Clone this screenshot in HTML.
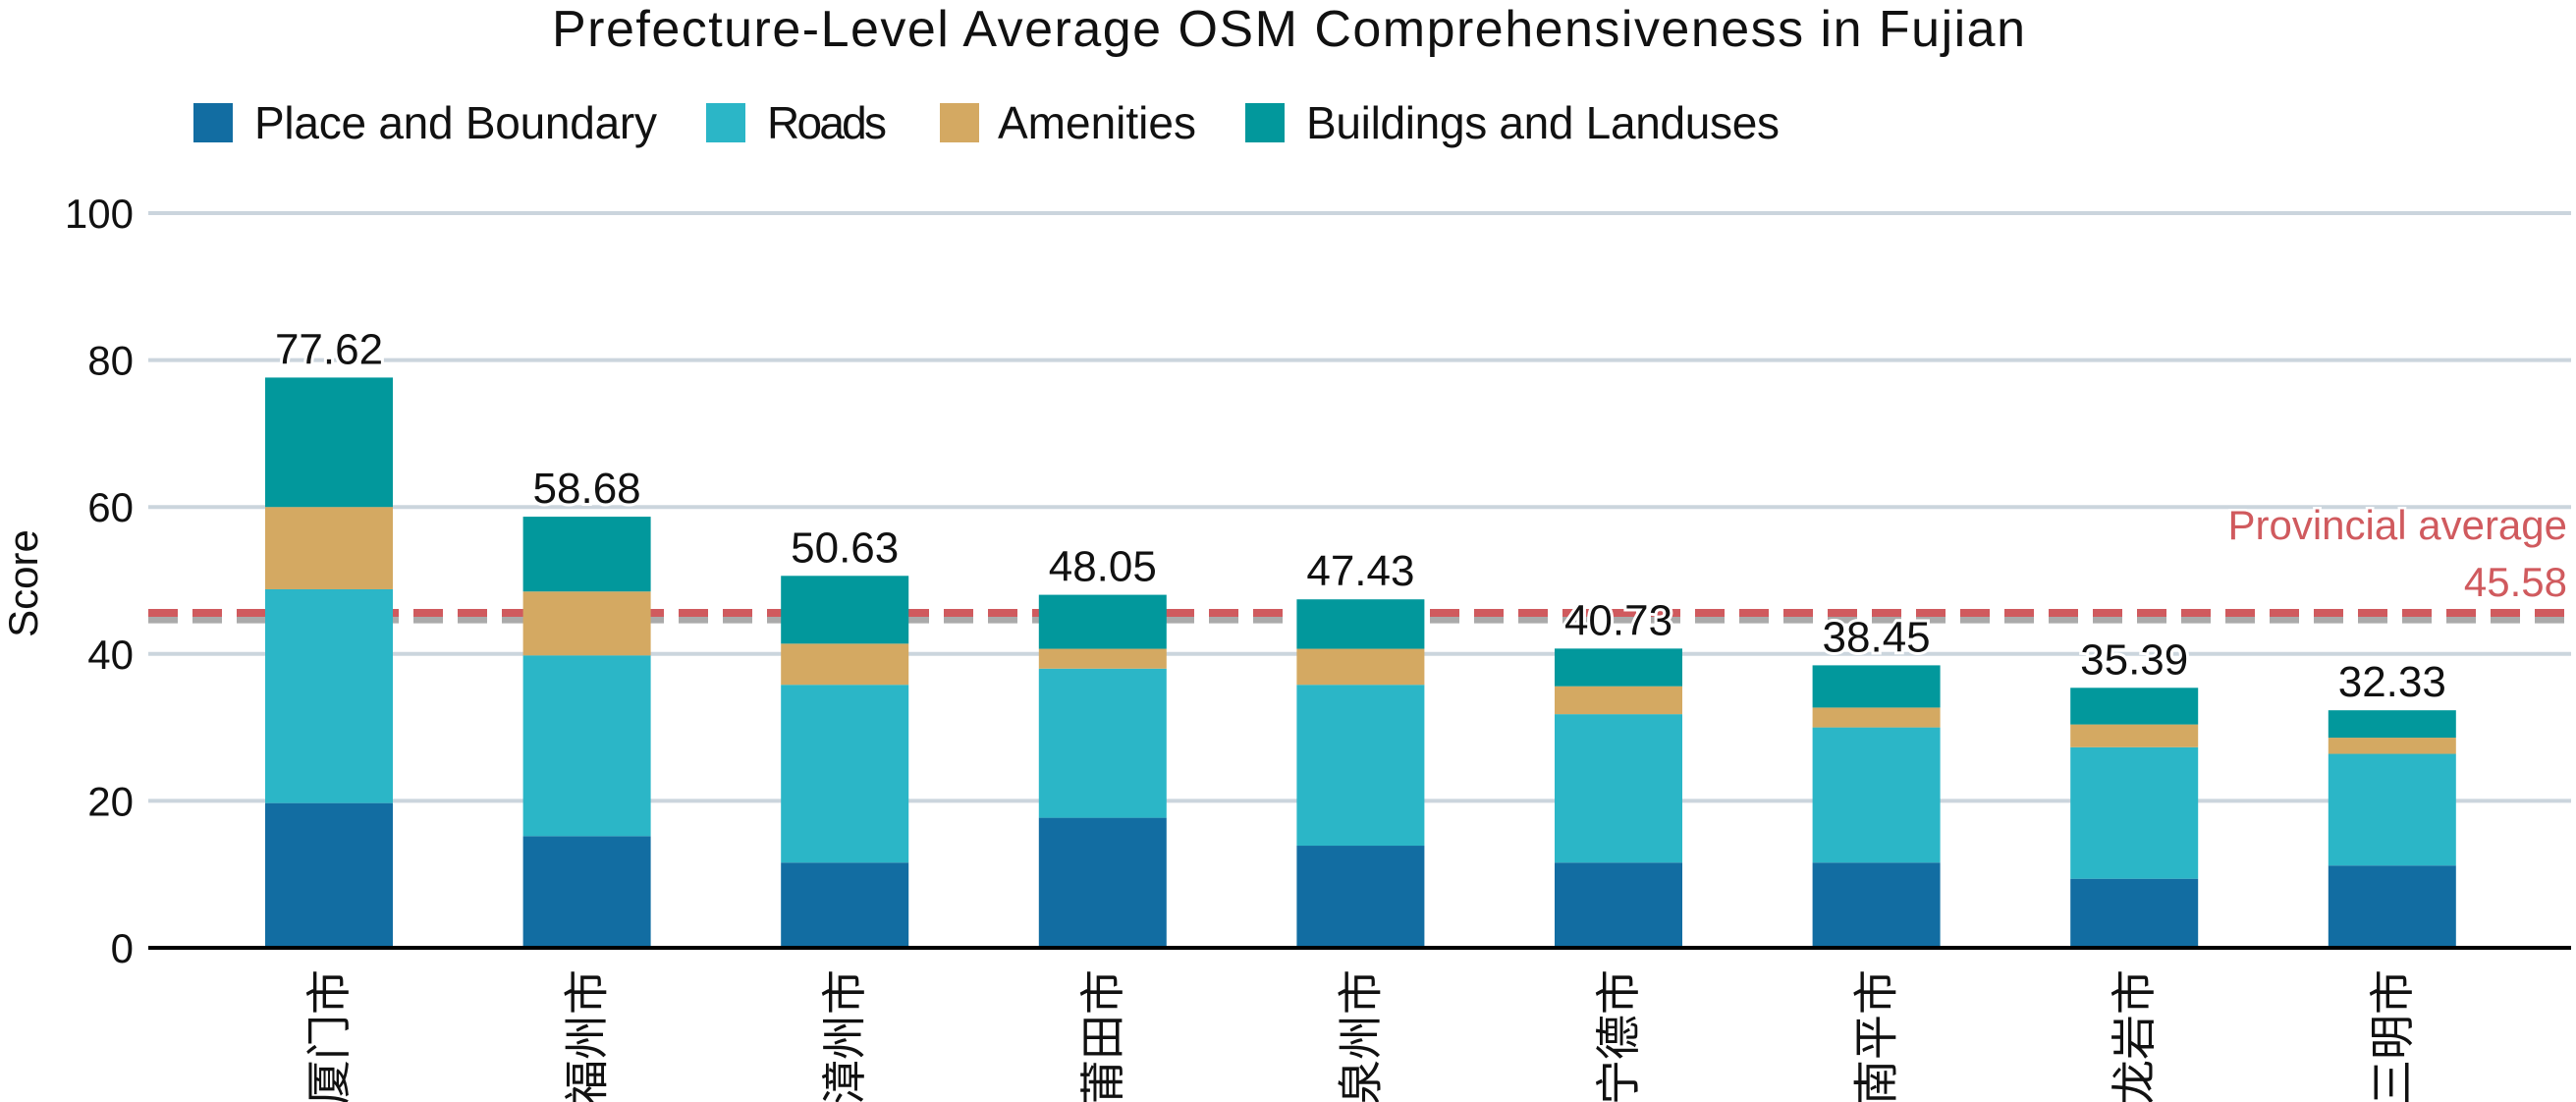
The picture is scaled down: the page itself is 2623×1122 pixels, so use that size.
<!DOCTYPE html>
<html><head><meta charset="utf-8"><style>html,body{margin:0;padding:0;background:#fff}svg{display:block}text{font-family:"Liberation Sans","Noto Sans CJK SC",sans-serif}</style></head>
<body>
<svg id="chart" width="2623" height="1122" viewBox="0 0 2623 1122" xmlns="http://www.w3.org/2000/svg">
<text x="1312" y="47" font-size="52" text-anchor="middle" textLength="1500" fill="#111">Prefecture-Level Average OSM Comprehensiveness in Fujian</text>
<g>
<rect x="197" y="105" width="40" height="40" fill="#126da2"/>
<text x="259" y="141" font-size="46" textLength="410" fill="#111">Place and Boundary</text>
<rect x="719" y="105" width="40" height="40" fill="#2bb6c7"/>
<text x="781" y="141" font-size="46" textLength="122" fill="#111">Roads</text>
<rect x="957" y="105" width="40" height="40" fill="#d4a962"/>
<text x="1016" y="141" font-size="46" textLength="202" fill="#111">Amenities</text>
<rect x="1268" y="105" width="40" height="40" fill="#02989c"/>
<text x="1330" y="141" font-size="46" textLength="482" fill="#111">Buildings and Landuses</text>
</g>
<text transform="translate(38,594) rotate(-90)" font-size="42" text-anchor="middle" fill="#111">Score</text>
<g id="grid"></g><g id="lines"></g><g id="bars"></g><g id="labels"></g>
</svg>
<script>
const categories = ["厦门市","福州市","漳州市","莆田市","泉州市","宁德市","南平市","龙岩市","三明市"];
const placeVals = [19.7,15.2,11.6,17.7,13.9,11.6,11.6,9.4,11.2];
const roadVals = [29.1,24.6,24.2,20.3,21.9,20.2,18.4,17.9,15.2];
const amenityVals = [11.2,8.7,5.6,2.7,4.9,3.8,2.7,3.1,2.2];
const totals = [77.62,58.68,50.63,48.05,47.43,40.73,38.45,35.39,32.33];
const yTicks = [0,20,40,60,80,100];
const provincialAvg = 45.58;
const nationalAvg = 44.7;

const NS="http://www.w3.org/2000/svg";
const X0=151,X1=2618,Y0=965,Y100=217;
const y=v=>Y0-(Y0-Y100)*v/100;
const xc=i=>335+i*262.6;
const BW=130;
function mk(tag,attrs,parent,txt){const e=document.createElementNS(NS,tag);for(const k in attrs)e.setAttribute(k,attrs[k]);if(txt!==undefined)e.textContent=txt;parent.appendChild(e);return e;}
const grid=document.getElementById('grid'),lines=document.getElementById('lines'),bars=document.getElementById('bars'),labels=document.getElementById('labels');
yTicks.forEach(t=>{
  if(t>0){const l=mk('line',{x1:X0,x2:X1,y1:y(t),y2:y(t),stroke:'#cbd5dd','stroke-width':4},grid);
  
  }
  const tx=mk('text',{x:136,y:y(t)+15,'font-size':42,'text-anchor':'end',fill:'#111'},grid,String(t));
  
  
});
const gl=mk('line',{x1:X0,x2:X1,y1:y(nationalAvg),y2:y(nationalAvg),stroke:'#aaa','stroke-width':8,'stroke-dasharray':'30 15'},lines);


const rl=mk('line',{x1:X0,x2:X1,y1:y(provincialAvg),y2:y(provincialAvg),stroke:'#d05a5e','stroke-width':8,'stroke-dasharray':'30 15'},lines);


const series=[[placeVals,'#126da2','place'],[roadVals,'#2bb6c7','roads'],[amenityVals,'#d4a962','amenities']];
categories.forEach((c,i)=>{
  let base=0;
  series.forEach(([arr,col,nm])=>{
    const r=mk('rect',{x:xc(i)-BW/2,y:y(base+arr[i]),width:BW,height:y(base)-y(base+arr[i]),fill:col},bars);
    
    
    base+=arr[i];
  });
  const r=mk('rect',{x:xc(i)-BW/2,y:y(totals[i]),width:BW,height:y(base)-y(totals[i]),fill:'#02989c'},bars);
  
  
  const v=mk('text',{x:xc(i),y:y(totals[i])-14,'font-size':44,'text-anchor':'middle',fill:'#111',stroke:'#fff','stroke-width':6,'paint-order':'stroke'},labels,totals[i].toFixed(2));
  
  
  const cl=mk('text',{transform:`translate(${xc(i)+16},987) rotate(-90)`,'font-size':46,'text-anchor':'end',fill:'#111'},labels,c);
  
  
});
const ax=mk('line',{x1:X0,x2:X1,y1:Y0,y2:Y0,stroke:'#000','stroke-width':4},labels);


const t1=mk('text',{x:2614,y:549,'font-size':42,'text-anchor':'end',fill:'#d05a5e',stroke:'#fff','stroke-width':5,'paint-order':'stroke'},labels,'Provincial average');


const t2=mk('text',{x:2614,y:607,'font-size':42,'text-anchor':'end',fill:'#d05a5e',stroke:'#fff','stroke-width':5,'paint-order':'stroke'},labels,provincialAvg.toFixed(2));


</script>
</body></html>
